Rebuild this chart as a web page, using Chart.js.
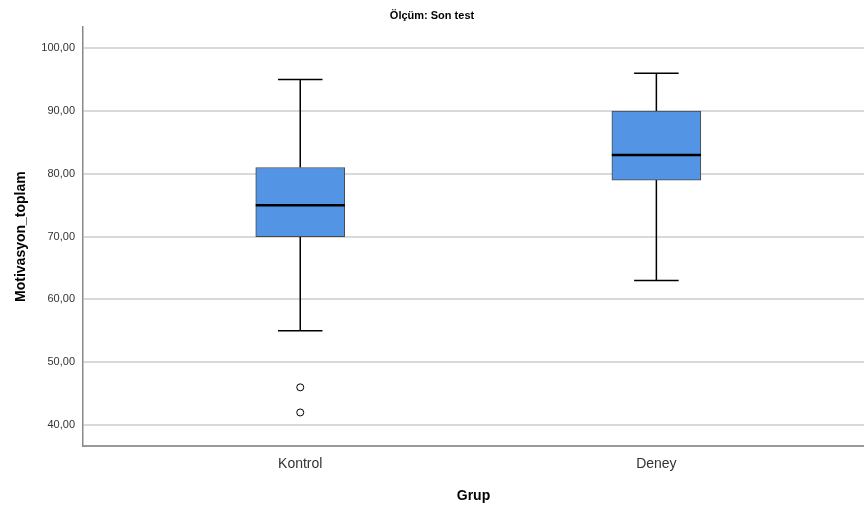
<!DOCTYPE html>
<html>
<head>
<meta charset="utf-8">
<script src="https://cdn.jsdelivr.net/npm/chart.js@4"></script>
<style>
  html, body { margin: 0; padding: 0; background: #fff; }
  #wrap { width: 864px; height: 509px; }
</style>
</head>
<body>
<div id="wrap"><canvas id="boxChart"></canvas></div>
<script>
const categories = ['Kontrol', 'Deney'];
const whiskerLow = [55, 63];
const q1 = [70, 79];
const median = [75, 83];
const q3 = [81, 90];
const whiskerHigh = [95, 96];
const outliers = [[46, 42], []];
const yTicks = [40, 50, 60, 70, 80, 90, 100];

const FONT = "'Liberation Sans', Arial, sans-serif";
const boxWidth = 0.25;   // in x units
const capWidth = 0.125;

const boxData = categories.map((c, i) => ({ x: i + 1, y: [q1[i], q3[i]] }));
const outlierData = [];
outliers.forEach((list, i) => list.forEach(v => outlierData.push({ x: i + 1, y: v })));

const boxPlotLines = {
    id: 'boxPlotLines',
    beforeDatasetsDraw(chart) {
        const ctx = chart.ctx;
        const xs = chart.scales.x, ys = chart.scales.y;
        ctx.save();
        ctx.strokeStyle = '#000';
        ctx.lineWidth = 1.5;
        categories.forEach((c, i) => {
            const cx = xs.getPixelForValue(i + 1);
            const half = (xs.getPixelForValue(i + 1 + capWidth / 2) - cx);
            ctx.beginPath();
            ctx.moveTo(cx, ys.getPixelForValue(whiskerHigh[i]));
            ctx.lineTo(cx, ys.getPixelForValue(q3[i]));
            ctx.moveTo(cx, ys.getPixelForValue(q1[i]));
            ctx.lineTo(cx, ys.getPixelForValue(whiskerLow[i]));
            ctx.moveTo(cx - half, ys.getPixelForValue(whiskerHigh[i]));
            ctx.lineTo(cx + half, ys.getPixelForValue(whiskerHigh[i]));
            ctx.moveTo(cx - half, ys.getPixelForValue(whiskerLow[i]));
            ctx.lineTo(cx + half, ys.getPixelForValue(whiskerLow[i]));
            ctx.stroke();
        });
        ctx.restore();
    },
    afterDatasetsDraw(chart) {
        const ctx = chart.ctx;
        const xs = chart.scales.x, ys = chart.scales.y;
        ctx.save();
        ctx.strokeStyle = '#000';
        ctx.lineWidth = 2.5;
        categories.forEach((c, i) => {
            const x0 = xs.getPixelForValue(i + 1 - boxWidth / 2);
            const x1 = xs.getPixelForValue(i + 1 + boxWidth / 2);
            const y = ys.getPixelForValue(median[i]);
            ctx.beginPath();
            ctx.moveTo(x0, y);
            ctx.lineTo(x1, y);
            ctx.stroke();
        });
        ctx.restore();
    }
};

new Chart(document.getElementById('boxChart'), {
    type: 'bar',
    data: {
        datasets: [{
            label: 'Kutu',
            data: boxData,
            backgroundColor: '#5394e4',
            borderColor: '#4a4a4a',
            borderWidth: 1,
            borderSkipped: false,
            barThickness: 89,
            order: 2
        }, {
            type: 'scatter',
            label: 'Aykırı',
            data: outlierData,
            pointStyle: 'circle',
            pointRadius: 3.5,
            pointBackgroundColor: '#fff',
            pointBorderColor: '#000',
            pointBorderWidth: 1,
            order: 1
        }]
    },
    options: {
        responsive: true,
        maintainAspectRatio: false,
        animation: false,
        layout: { padding: 0, autoPadding: false },
        plugins: {
            legend: { display: false },
            tooltip: { enabled: false },
            title: {
                display: true,
                text: 'Ölçüm: Son test',
                color: '#000',
                font: { family: FONT, size: 11, weight: 'bold' },
                padding: { top: 9, bottom: 5 }
            }
        },
        scales: {
            x: {
                type: 'linear',
                offset: false,
                min: 0.39,
                max: 2.583,
                afterBuildTicks(scale) {
                    scale.ticks = categories.map((c, i) => ({ value: i + 1 }));
                },
                afterFit(scale) {
                    scale.height = 63;
                    scale.paddingLeft = 0;
                    scale.paddingRight = 0;
                },
                grid: { display: false, drawTicks: false },
                border: { display: true, color: '#999', width: 2 },
                ticks: {
                    padding: 10,
                    color: '#333',
                    font: { family: FONT, size: 14 },
                    callback: v => categories[v - 1]
                },
                title: {
                    display: true,
                    text: 'Grup',
                    color: '#000',
                    font: { family: FONT, size: 14, weight: 'bold' },
                    padding: { top: 0, bottom: 4 }
                }
            },
            y: {
                min: 36.66,
                max: 103.34,
                afterBuildTicks(scale) {
                    scale.ticks = yTicks.map(v => ({ value: v }));
                },
                afterFit(scale) {
                    scale.width = 83;
                    scale.paddingTop = 0;
                    scale.paddingBottom = 0;
                },
                grid: { color: '#d9d9d9', lineWidth: 2, drawTicks: false },
                border: { display: true, color: '#888', width: 1.5 },
                ticks: {
                    padding: 8,
                    color: '#333',
                    font: { family: FONT, size: 11 },
                    callback: v => v.toFixed(2).replace('.', ',')
                },
                title: {
                    display: true,
                    text: 'Motivasyon_toplam',
                    color: '#000',
                    font: { family: FONT, size: 14, weight: 'bold' },
                    padding: { top: 13, bottom: 0 }
                }
            }
        }
    },
    plugins: [boxPlotLines]
});
</script>
</body>
</html>
